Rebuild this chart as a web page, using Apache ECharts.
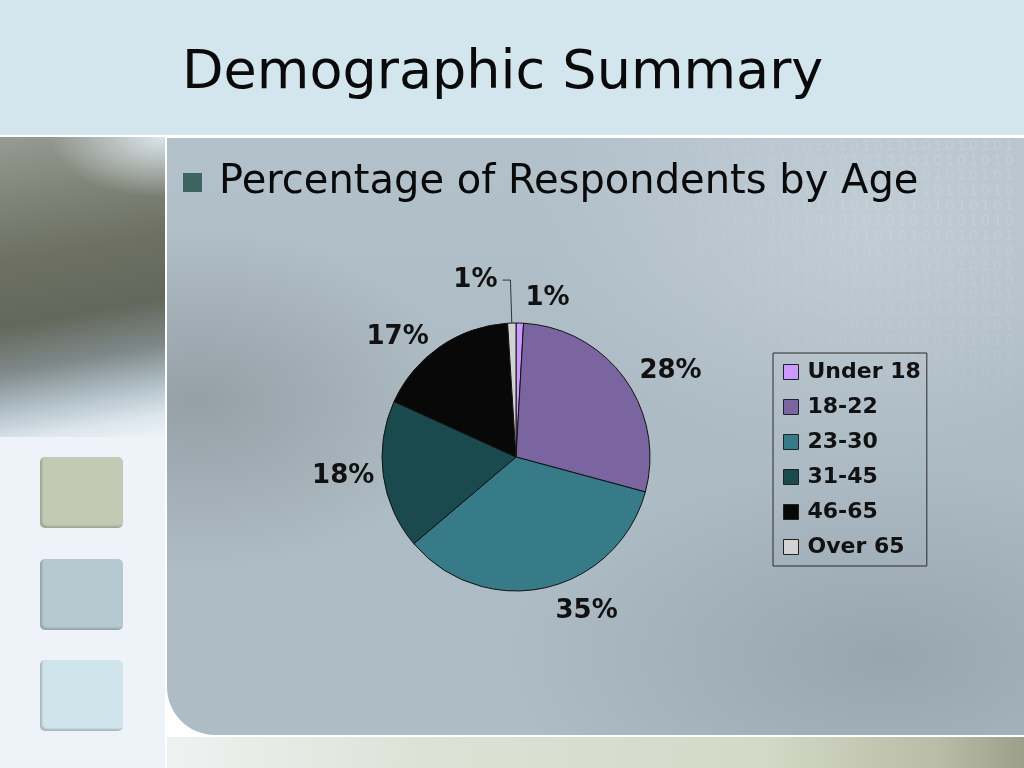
<!DOCTYPE html>
<html>
<head>
<meta charset="utf-8">
<script src="https://cdn.jsdelivr.net/npm/echarts@6/dist/echarts.min.js"></script>
<style>
  html, body { margin: 0; padding: 0; }
  #slide { position: relative; width: 1024px; height: 768px; overflow: hidden; background: #ffffff; }
  .bg { position: absolute; }
  #topband { left: 0; top: 0; width: 1024px; height: 135px; background: #d3e6ed; }
  #leftcol { left: 0; top: 137px; width: 165px; height: 631px; background: #eef3f9; }
  #photo { left: 0; top: 137px; width: 165px; height: 300px;
    background:
      radial-gradient(ellipse 110px 60px at 160px 0px, rgba(226,236,243,0.9), rgba(226,236,243,0)),
      linear-gradient(170deg, #969c94 0%, #82867a 18%, #6d7063 38%, #64685c 58%, #7f898a 72%, #b3c2ca 84%, #dce6ec 93%, #eef3f9 100%); }
  #panel { left: 167px; top: 138px; width: 857px; height: 597px; border-bottom-left-radius: 48px;
    background:
      radial-gradient(ellipse 260px 170px at 30px 260px, rgba(125,134,136,0.5), rgba(125,134,136,0)),
      radial-gradient(ellipse 380px 200px at 720px 520px, rgba(125,138,146,0.45), rgba(125,138,146,0)),
      radial-gradient(ellipse 330px 230px at 700px 90px, rgba(205,216,222,0.55), rgba(205,216,222,0)),
      linear-gradient(180deg, #b3c1cb 0%, #adbbc4 45%, #aebcc5 100%); }
  #binary { left: 600px; top: 138px; width: 424px; height: 320px; overflow: hidden;
    font-family: "DejaVu Sans", sans-serif; font-size: 14px; line-height: 15px; letter-spacing: 3px;
    color: rgba(212,224,231,0.30); white-space: pre;
    -webkit-mask-image: radial-gradient(ellipse 460px 330px at 424px 0px, rgba(0,0,0,1) 25%, rgba(0,0,0,0) 100%);
    mask-image: radial-gradient(ellipse 460px 330px at 424px 0px, rgba(0,0,0,1) 25%, rgba(0,0,0,0) 100%); }
  #bottomstrip { left: 167px; top: 737px; width: 857px; height: 31px;
    background: linear-gradient(90deg, #eef2f2 0%, #dde2d6 30%, #d3d9c6 70%, #b9bca6 90%, #9c9f89 100%); }
  .sq { position: absolute; left: 40px; width: 83px; height: 71px; border-radius: 5px;
    box-shadow: inset 2px -2px 2px rgba(90,100,100,0.35); }
  #chart { position: absolute; left: 0; top: 0; width: 1024px; height: 768px; }
</style>
</head>
<body>
<div id="slide">
  <div class="bg" id="topband"></div>
  <div class="bg" id="leftcol"></div>
  <div class="bg" id="photo"></div>
  <div class="bg" id="panel"></div>
  <div class="bg" id="binary"></div>
  <div class="bg" id="bottomstrip"></div>
  <div class="sq" style="top:457px;background:#c3cab4;"></div>
  <div class="sq" style="top:559px;background:#b6c9d0;"></div>
  <div class="sq" style="top:660px;background:#d0e5eb;"></div>
  <div id="chart"></div>
</div>
<script>
// 数据
var categories = ['Under 18', '18-22', '23-30', '31-45', '46-65', 'Over 65'];
var shares = [0.9, 28.3, 34.6, 18.0, 17.2, 1.0];
var sliceColors = ['#cc99ff', '#7b65a0', '#367b87', '#1b4a4e', '#080808', '#d2d2d2'];
// 每个标签引导线的长度
var labelLengths = [25, 12, 24, 4, 11, 43];

var titleText = 'Demographic Summary';
var bulletText = 'Percentage of Respondents by Age';

// 背景里的 0101 图案
var rows = [];
for (var i = 0; i < 22; i++) {
    rows.push(i % 2 ? '01010101010101010101010101010101010' : '10101010101010101010101010101010101');
}
document.getElementById('binary').textContent = rows.join('\n');

var chart = echarts.init(document.getElementById('chart'), null, {renderer: 'canvas'});

var pieData = categories.map(function (name, i) {
    var item = {
        name: name,
        value: shares[i],
        itemStyle: {color: sliceColors[i]},
        labelLine: {show: false, length: labelLengths[i], length2: 0}
    };
    if (name === 'Over 65') {
        item.labelLine = {show: true, length: labelLengths[i], length2: 8, lineStyle: {color: '#333', width: 1}};
    }
    return item;
});

var option = {
    backgroundColor: 'transparent',
    animation: false,
    title: [{
        text: titleText,
        left: 177,
        top: 42,
        textStyle: {fontFamily: 'DejaVu Sans', fontWeight: 'normal', fontSize: 54, lineHeight: 54, color: '#0a0a0a'}
    }, {
        text: bulletText,
        left: 214,
        top: 158,
        textStyle: {fontFamily: 'DejaVu Sans', fontWeight: 'normal', fontSize: 40, lineHeight: 40, color: '#0a0a0a'}
    }],
    graphic: [{
        type: 'rect',
        shape: {x: 183, y: 173, width: 19, height: 19},
        style: {fill: '#3e6462'}
    }],
    legend: {
        orient: 'vertical',
        left: 773,
        top: 353,
        padding: [8, 6, 8, 10],
        itemWidth: 15,
        itemHeight: 15,
        itemGap: 13,
        icon: 'rect',
        borderColor: '#2a2a2a',
        borderWidth: 1,
        itemStyle: {borderColor: '#222', borderWidth: 1},
        textStyle: {fontFamily: 'DejaVu Sans', fontWeight: 'bold', fontSize: 22, lineHeight: 22, color: '#111', padding: [0, 0, 0, 4]},
        data: categories
    },
    series: [{
        type: 'pie',
        center: [516, 457],
        radius: 134,
        startAngle: 90,
        clockwise: true,
        avoidLabelOverlap: false,
        itemStyle: {borderColor: '#111', borderWidth: 1},
        label: {
            show: true,
            position: 'outside',
            fontFamily: 'DejaVu Sans',
            fontWeight: 'bold',
            fontSize: 26,
            color: '#111',
            formatter: function (p) { return Math.round(p.percent) + '%'; }
        },
        labelLine: {show: false, length: 12, length2: 0},
        emphasis: {disabled: true},
        data: pieData
    }]
};

chart.setOption(option);
</script>
</body>
</html>
